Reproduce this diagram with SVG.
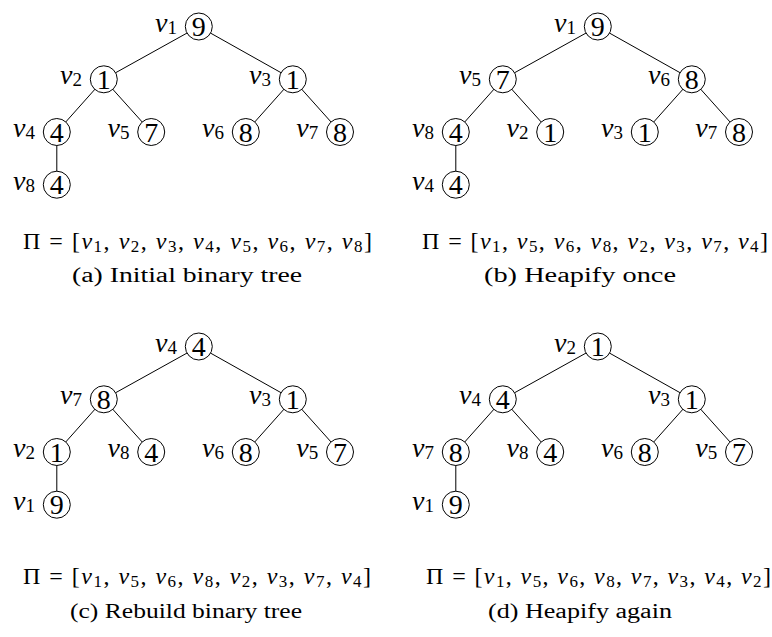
<svg xmlns="http://www.w3.org/2000/svg" width="772" height="637" viewBox="0 0 772 637">
<style>
.e{stroke:#000;stroke-width:1;fill:none}
.c{fill:#fff;stroke:#000;stroke-width:1}
.d{font-family:"Liberation Serif","DejaVu Serif",serif;font-size:28px;text-anchor:middle;fill:#000}
.l{font-family:"Liberation Serif","DejaVu Serif",serif;font-size:28px;font-style:italic;text-anchor:end;fill:#000}
.s{font-style:normal;font-size:19px}
.p{font-family:"Liberation Serif","DejaVu Serif",serif;font-size:24px;fill:#000}
.pv{font-style:italic}
.ps{font-size:17px}
.cap{font-family:"Liberation Serif","DejaVu Serif",serif;font-size:20px;fill:#000;text-anchor:middle}
</style>
<defs>
<g id="edges">
<line x1="198.8" y1="26.5" x2="103.8" y2="79.3"/>
<line x1="198.8" y1="26.5" x2="292.8" y2="79.3"/>
<line x1="103.8" y1="79.3" x2="56.8" y2="132"/>
<line x1="103.8" y1="79.3" x2="151.2" y2="132"/>
<line x1="292.8" y1="79.3" x2="245.8" y2="132"/>
<line x1="292.8" y1="79.3" x2="340" y2="132"/>
<line x1="56.8" y1="132" x2="56.8" y2="184.7"/>
</g>
</defs>
<g id="connectors" class="e">
<use href="#edges"/>
<use href="#edges" transform="translate(399,0)"/>
<use href="#edges" transform="translate(0,320)"/>
<use href="#edges" transform="translate(399,320)"/>
</g>

<!-- Panel (a) -->
<g id="panel-a">
<g id="a-v1"><circle class="c" cx="198.8" cy="26.5" r="13.5"/><text class="d" x="198.8" y="36">9</text><text class="l" x="177" y="31.5">v<tspan class="s" dy="2">1</tspan></text></g>
<g id="a-v2"><circle class="c" cx="103.8" cy="79.3" r="13.5"/><text class="d" x="103.8" y="88.8">1</text><text class="l" x="82" y="84.3">v<tspan class="s" dy="2">2</tspan></text></g>
<g id="a-v3"><circle class="c" cx="292.8" cy="79.3" r="13.5"/><text class="d" x="292.8" y="88.8">1</text><text class="l" x="271" y="84.3">v<tspan class="s" dy="2">3</tspan></text></g>
<g id="a-v4"><circle class="c" cx="56.8" cy="132" r="13.5"/><text class="d" x="56.8" y="141.5">4</text><text class="l" x="35" y="137">v<tspan class="s" dy="2">4</tspan></text></g>
<g id="a-v5"><circle class="c" cx="151.2" cy="132" r="13.5"/><text class="d" x="151.2" y="141.5">7</text><text class="l" x="129.4" y="137">v<tspan class="s" dy="2">5</tspan></text></g>
<g id="a-v6"><circle class="c" cx="245.8" cy="132" r="13.5"/><text class="d" x="245.8" y="141.5">8</text><text class="l" x="224" y="137">v<tspan class="s" dy="2">6</tspan></text></g>
<g id="a-v7"><circle class="c" cx="340" cy="132" r="13.5"/><text class="d" x="340" y="141.5">8</text><text class="l" x="318.2" y="137">v<tspan class="s" dy="2">7</tspan></text></g>
<g id="a-v8"><circle class="c" cx="56.8" cy="184.7" r="13.5"/><text class="d" x="56.8" y="194.2">4</text><text class="l" x="35" y="189.7">v<tspan class="s" dy="2">8</tspan></text></g>
<text class="p" x="23" y="249" textLength="349" lengthAdjust="spacing">Π = [<tspan class="pv">v</tspan><tspan class="ps" dy="3">1</tspan><tspan dy="-3">, </tspan><tspan class="pv">v</tspan><tspan class="ps" dy="3">2</tspan><tspan dy="-3">, </tspan><tspan class="pv">v</tspan><tspan class="ps" dy="3">3</tspan><tspan dy="-3">, </tspan><tspan class="pv">v</tspan><tspan class="ps" dy="3">4</tspan><tspan dy="-3">, </tspan><tspan class="pv">v</tspan><tspan class="ps" dy="3">5</tspan><tspan dy="-3">, </tspan><tspan class="pv">v</tspan><tspan class="ps" dy="3">6</tspan><tspan dy="-3">, </tspan><tspan class="pv">v</tspan><tspan class="ps" dy="3">7</tspan><tspan dy="-3">, </tspan><tspan class="pv">v</tspan><tspan class="ps" dy="3">8</tspan><tspan dy="-3">]</tspan></text>
<text class="cap" x="187" y="282" textLength="230" lengthAdjust="spacingAndGlyphs">(a) Initial binary tree</text>
</g>

<!-- Panel (b) -->
<g id="panel-b" transform="translate(399,0)">
<g id="b-v1"><circle class="c" cx="198.8" cy="26.5" r="13.5"/><text class="d" x="198.8" y="36">9</text><text class="l" x="177" y="31.5">v<tspan class="s" dy="2">1</tspan></text></g>
<g id="b-v5"><circle class="c" cx="103.8" cy="79.3" r="13.5"/><text class="d" x="103.8" y="88.8">7</text><text class="l" x="82" y="84.3">v<tspan class="s" dy="2">5</tspan></text></g>
<g id="b-v6"><circle class="c" cx="292.8" cy="79.3" r="13.5"/><text class="d" x="292.8" y="88.8">8</text><text class="l" x="271" y="84.3">v<tspan class="s" dy="2">6</tspan></text></g>
<g id="b-v8"><circle class="c" cx="56.8" cy="132" r="13.5"/><text class="d" x="56.8" y="141.5">4</text><text class="l" x="35" y="137">v<tspan class="s" dy="2">8</tspan></text></g>
<g id="b-v2"><circle class="c" cx="151.2" cy="132" r="13.5"/><text class="d" x="151.2" y="141.5">1</text><text class="l" x="129.4" y="137">v<tspan class="s" dy="2">2</tspan></text></g>
<g id="b-v3"><circle class="c" cx="245.8" cy="132" r="13.5"/><text class="d" x="245.8" y="141.5">1</text><text class="l" x="224" y="137">v<tspan class="s" dy="2">3</tspan></text></g>
<g id="b-v7"><circle class="c" cx="340" cy="132" r="13.5"/><text class="d" x="340" y="141.5">8</text><text class="l" x="318.2" y="137">v<tspan class="s" dy="2">7</tspan></text></g>
<g id="b-v4"><circle class="c" cx="56.8" cy="184.7" r="13.5"/><text class="d" x="56.8" y="194.2">4</text><text class="l" x="35" y="189.7">v<tspan class="s" dy="2">4</tspan></text></g>
<text class="p" x="23" y="249" textLength="346" lengthAdjust="spacing">Π = [<tspan class="pv">v</tspan><tspan class="ps" dy="3">1</tspan><tspan dy="-3">, </tspan><tspan class="pv">v</tspan><tspan class="ps" dy="3">5</tspan><tspan dy="-3">, </tspan><tspan class="pv">v</tspan><tspan class="ps" dy="3">6</tspan><tspan dy="-3">, </tspan><tspan class="pv">v</tspan><tspan class="ps" dy="3">8</tspan><tspan dy="-3">, </tspan><tspan class="pv">v</tspan><tspan class="ps" dy="3">2</tspan><tspan dy="-3">, </tspan><tspan class="pv">v</tspan><tspan class="ps" dy="3">3</tspan><tspan dy="-3">, </tspan><tspan class="pv">v</tspan><tspan class="ps" dy="3">7</tspan><tspan dy="-3">, </tspan><tspan class="pv">v</tspan><tspan class="ps" dy="3">4</tspan><tspan dy="-3">]</tspan></text>
<text class="cap" x="181" y="282" textLength="192" lengthAdjust="spacingAndGlyphs">(b) Heapify once</text>
</g>

<!-- Panel (c) -->
<g id="panel-c" transform="translate(0,320)">
<g id="c-v4"><circle class="c" cx="198.8" cy="26.5" r="13.5"/><text class="d" x="198.8" y="36">4</text><text class="l" x="177" y="31.5">v<tspan class="s" dy="2">4</tspan></text></g>
<g id="c-v7"><circle class="c" cx="103.8" cy="79.3" r="13.5"/><text class="d" x="103.8" y="88.8">8</text><text class="l" x="82" y="84.3">v<tspan class="s" dy="2">7</tspan></text></g>
<g id="c-v3"><circle class="c" cx="292.8" cy="79.3" r="13.5"/><text class="d" x="292.8" y="88.8">1</text><text class="l" x="271" y="84.3">v<tspan class="s" dy="2">3</tspan></text></g>
<g id="c-v2"><circle class="c" cx="56.8" cy="132" r="13.5"/><text class="d" x="56.8" y="141.5">1</text><text class="l" x="35" y="137">v<tspan class="s" dy="2">2</tspan></text></g>
<g id="c-v8"><circle class="c" cx="151.2" cy="132" r="13.5"/><text class="d" x="151.2" y="141.5">4</text><text class="l" x="129.4" y="137">v<tspan class="s" dy="2">8</tspan></text></g>
<g id="c-v6"><circle class="c" cx="245.8" cy="132" r="13.5"/><text class="d" x="245.8" y="141.5">8</text><text class="l" x="224" y="137">v<tspan class="s" dy="2">6</tspan></text></g>
<g id="c-v5"><circle class="c" cx="340" cy="132" r="13.5"/><text class="d" x="340" y="141.5">7</text><text class="l" x="318.2" y="137">v<tspan class="s" dy="2">5</tspan></text></g>
<g id="c-v1"><circle class="c" cx="56.8" cy="184.7" r="13.5"/><text class="d" x="56.8" y="194.2">9</text><text class="l" x="35" y="189.7">v<tspan class="s" dy="2">1</tspan></text></g>
<text class="p" x="23" y="264" textLength="348" lengthAdjust="spacing">Π = [<tspan class="pv">v</tspan><tspan class="ps" dy="3">1</tspan><tspan dy="-3">, </tspan><tspan class="pv">v</tspan><tspan class="ps" dy="3">5</tspan><tspan dy="-3">, </tspan><tspan class="pv">v</tspan><tspan class="ps" dy="3">6</tspan><tspan dy="-3">, </tspan><tspan class="pv">v</tspan><tspan class="ps" dy="3">8</tspan><tspan dy="-3">, </tspan><tspan class="pv">v</tspan><tspan class="ps" dy="3">2</tspan><tspan dy="-3">, </tspan><tspan class="pv">v</tspan><tspan class="ps" dy="3">3</tspan><tspan dy="-3">, </tspan><tspan class="pv">v</tspan><tspan class="ps" dy="3">7</tspan><tspan dy="-3">, </tspan><tspan class="pv">v</tspan><tspan class="ps" dy="3">4</tspan><tspan dy="-3">]</tspan></text>
<text class="cap" x="186" y="298" textLength="232" lengthAdjust="spacingAndGlyphs">(c) Rebuild binary tree</text>
</g>

<!-- Panel (d) -->
<g id="panel-d" transform="translate(399,320)">
<g id="d-v2"><circle class="c" cx="198.8" cy="26.5" r="13.5"/><text class="d" x="198.8" y="36">1</text><text class="l" x="177" y="31.5">v<tspan class="s" dy="2">2</tspan></text></g>
<g id="d-v4"><circle class="c" cx="103.8" cy="79.3" r="13.5"/><text class="d" x="103.8" y="88.8">4</text><text class="l" x="82" y="84.3">v<tspan class="s" dy="2">4</tspan></text></g>
<g id="d-v3"><circle class="c" cx="292.8" cy="79.3" r="13.5"/><text class="d" x="292.8" y="88.8">1</text><text class="l" x="271" y="84.3">v<tspan class="s" dy="2">3</tspan></text></g>
<g id="d-v7"><circle class="c" cx="56.8" cy="132" r="13.5"/><text class="d" x="56.8" y="141.5">8</text><text class="l" x="35" y="137">v<tspan class="s" dy="2">7</tspan></text></g>
<g id="d-v8"><circle class="c" cx="151.2" cy="132" r="13.5"/><text class="d" x="151.2" y="141.5">4</text><text class="l" x="129.4" y="137">v<tspan class="s" dy="2">8</tspan></text></g>
<g id="d-v6"><circle class="c" cx="245.8" cy="132" r="13.5"/><text class="d" x="245.8" y="141.5">8</text><text class="l" x="224" y="137">v<tspan class="s" dy="2">6</tspan></text></g>
<g id="d-v5"><circle class="c" cx="340" cy="132" r="13.5"/><text class="d" x="340" y="141.5">7</text><text class="l" x="318.2" y="137">v<tspan class="s" dy="2">5</tspan></text></g>
<g id="d-v1"><circle class="c" cx="56.8" cy="184.7" r="13.5"/><text class="d" x="56.8" y="194.2">9</text><text class="l" x="35" y="189.7">v<tspan class="s" dy="2">1</tspan></text></g>
<text class="p" x="27" y="264" textLength="345" lengthAdjust="spacing">Π = [<tspan class="pv">v</tspan><tspan class="ps" dy="3">1</tspan><tspan dy="-3">, </tspan><tspan class="pv">v</tspan><tspan class="ps" dy="3">5</tspan><tspan dy="-3">, </tspan><tspan class="pv">v</tspan><tspan class="ps" dy="3">6</tspan><tspan dy="-3">, </tspan><tspan class="pv">v</tspan><tspan class="ps" dy="3">8</tspan><tspan dy="-3">, </tspan><tspan class="pv">v</tspan><tspan class="ps" dy="3">7</tspan><tspan dy="-3">, </tspan><tspan class="pv">v</tspan><tspan class="ps" dy="3">3</tspan><tspan dy="-3">, </tspan><tspan class="pv">v</tspan><tspan class="ps" dy="3">4</tspan><tspan dy="-3">, </tspan><tspan class="pv">v</tspan><tspan class="ps" dy="3">2</tspan><tspan dy="-3">]</tspan></text>
<text class="cap" x="181" y="298" textLength="184" lengthAdjust="spacingAndGlyphs">(d) Heapify again</text>
</g>
</svg>
